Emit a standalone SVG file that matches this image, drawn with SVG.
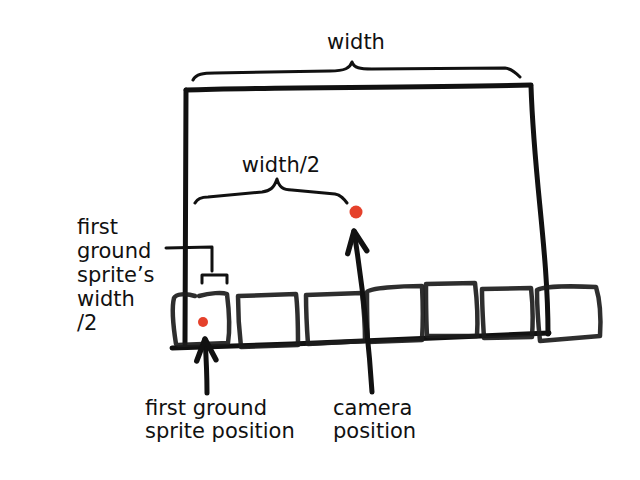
<svg xmlns="http://www.w3.org/2000/svg" width="640" height="480" viewBox="0 0 640 480">
<style>
.bg{fill:#ffffff}
.frame{fill:none;stroke:#111;stroke-width:5;stroke-linecap:round;stroke-linejoin:round}
.brace{fill:none;stroke:#111;stroke-width:3;stroke-linecap:round;stroke-linejoin:round}
.tile{fill:none;stroke:#1c1c1c;stroke-width:4.5;stroke-linecap:round;stroke-linejoin:round;stroke-opacity:0.92}
.dot{fill:#e5412b}
.arrow{fill:none;stroke:#111;stroke-width:5;stroke-linecap:round}
.lbl{font-family:"DejaVu Sans","Liberation Sans",sans-serif;font-size:21px;fill:#111}
</style>
<defs>
<marker id="chev" markerUnits="userSpaceOnUse" markerWidth="30" markerHeight="30" refX="0" refY="0" viewBox="-24 -14 28 28" orient="auto" overflow="visible">
<path d="M-20,-9 L0,0 L-20,9" fill="none" stroke="#111" stroke-width="5" stroke-linecap="round" stroke-linejoin="round"/>
</marker>
</defs>
<rect class="bg" x="0" y="0" width="640" height="480"/>

<g id="frame">
<path class="frame" d="M186,90 C260,87 420,88 531,85"/>
<path class="frame" d="M186,90 C185,200 186,280 185,344"/>
<path class="frame" d="M531,86 C534,180 548,250 548,334"/>
<path class="frame" d="M172,348 C300,344 450,338 549,333"/>
</g>

<g id="width-brace">
<path class="brace" d="M193,80 C196,74 203,73 215,73 L330,71 C345,71 350,68 352,62 C354,68 360,69 372,69 L505,68 C512,69 516,73 520,77"/>
<text class="lbl" x="356" y="49" text-anchor="middle">width</text>
</g>

<g id="half-width-brace">
<path class="brace" d="M195,203 C197,199 200,197 208,197 L262,192 C270,191 274,188 277,179 C279,187 283,190 292,190 L335,194 C341,195 344,199 347,203"/>
<text class="lbl" x="281" y="172" text-anchor="middle">width/2</text>
</g>

<g id="sprite-half-bracket">
<path class="brace" d="M166,248 L212,247 L212,271"/>
<path class="brace" d="M202,283 L202,275 L227,275 L227,283"/>
<text class="lbl" x="77" y="234">first</text>
<text class="lbl" x="77" y="258">ground</text>
<text class="lbl" x="77" y="282">sprite’s</text>
<text class="lbl" x="77" y="306">width</text>
<text class="lbl" x="77" y="330">/2</text>
</g>

<g id="tiles">
<path class="tile" d="M176,344 C173,325 172,306 174,298 C176,294 186,293 195,296 M199,296 C210,293 222,292 227,294 C229,310 230,330 228,343 L178,345"/>
<path class="tile" d="M238,296 L296,294 C298,310 298,330 298,345 L241,347 C239,330 238,310 238,296 Z"/>
<path class="tile" d="M306,295 L362,293 C364,310 365,328 365,341 L308,344 C307,330 306,310 306,295 Z"/>
<path class="tile" d="M367,292 C370,288 400,286 422,286 C423,305 423,325 422,340 L368,342 C367,325 367,305 367,292 Z"/>
<path class="tile" d="M426,284 L475,283 C477,300 478,320 477,336 L427,336 C426,318 426,300 426,284 Z"/>
<path class="tile" d="M482,289 L531,288 C533,305 533,322 532,337 L484,338 C483,322 482,305 482,289 Z"/>
<path class="tile" d="M537,290 C545,286 575,286 596,287 C600,300 601,320 600,336 L540,341 C538,322 537,305 537,290 Z"/>
</g>

<g id="camera-position">
<circle class="dot" cx="356" cy="212" r="6.5"/>
<text class="lbl" x="333" y="415">camera</text>
<text class="lbl" x="333" y="438">position</text>
</g>

<g id="first-ground-sprite-position">
<circle class="dot" cx="203" cy="322" r="5"/>
<text class="lbl" x="145" y="415">first ground</text>
<text class="lbl" x="145" y="438">sprite position</text>
</g>

<g id="connectors">
<path class="arrow" d="M372,392 C368,330 360,270 354,231" marker-end="url(#chev)"/>
<path class="arrow" d="M207,393 C207,370 206,355 205,339" marker-end="url(#chev)"/>
</g>
</svg>
